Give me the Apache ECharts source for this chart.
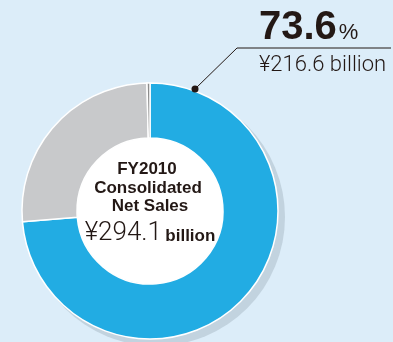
<!DOCTYPE html>
<html>
<head>
<meta charset="utf-8">
<script src="https://cdn.jsdelivr.net/npm/echarts@6/dist/echarts.min.js"></script>
<style>
  html, body { margin: 0; padding: 0; background: #dcedf9; }
  #chart { width: 393px; height: 342px; }
</style>
</head>
<body>
<div id="chart"></div>
<script>
// FY2010 consolidated net sales breakdown (¥ billion)
const segments = ['Main segment', 'Other segment', 'Eliminations'];
const salesBillion = [216.6, 76.4, 1.1];
const segmentColors = ['#22ace3', '#c8c9cb', '#8c8c8c'];
const totalBillion = 294.1;
const fiscalYear = 'FY2010';

const share = (salesBillion[0] / totalBillion * 100).toFixed(1);

const chart = echarts.init(document.getElementById('chart'), null, { renderer: 'canvas' });

const CX = 150, CY = 211, R_OUT = 128, R_IN = 73;
const font = '"Liberation Sans", Arial, Helvetica, sans-serif';
const ink = '#231815';

function centreLine(x, y, text, rich) {
  return {
    type: 'text', z: 20, x, y,
    style: rich
      ? { text, align: 'center', verticalAlign: 'middle', rich }
      : { text, align: 'center', verticalAlign: 'middle', fontFamily: font, fontWeight: 'bold', fontSize: 17, fill: ink }
  };
}

chart.setOption({
  backgroundColor: '#dcedf9',
  animation: false,
  series: [
    {
      // drop shadow ring behind the donut
      type: 'pie',
      silent: true,
      center: [CX + 6, CY + 6],
      radius: [0, R_OUT + 1],
      label: { show: false },
      itemStyle: { color: '#c2d3df' },
      data: [{ value: 1 }],
      z: 1
    },
    {
      type: 'pie',
      center: [CX, CY],
      radius: [R_IN, R_OUT],
      startAngle: 90,
      clockwise: true,
      label: { show: false },
      labelLine: { show: false },
      itemStyle: { borderColor: '#ffffff', borderWidth: 1.5 },
      data: segments.map((name, i) => ({
        name,
        value: salesBillion[i],
        itemStyle: { color: segmentColors[i] }
      })),
      z: 2
    },
    {
      // white centre disc
      type: 'pie',
      silent: true,
      center: [CX, CY],
      radius: [0, R_IN],
      label: { show: false },
      itemStyle: { color: '#ffffff' },
      data: [{ value: 1 }],
      z: 3
    }
  ],
  graphic: [
    // callout line and dot
    {
      type: 'polyline', z: 20,
      shape: { points: [[195, 89], [237, 48], [391, 48]] },
      style: { stroke: ink, lineWidth: 1, fill: null }
    },
    {
      type: 'circle', z: 20,
      shape: { cx: 195, cy: 89, r: 3.5 },
      style: { fill: ink }
    },
    {
      type: 'text', z: 20, left: 259, top: 8,
      style: {
        text: '{a|' + share + '}{b|%}',
        rich: {
          a: { fontFamily: font, fontWeight: 'bold', fontSize: 40, fill: ink },
          b: { fontFamily: font, fontSize: 22, fill: ink, padding: [10, 0, 0, 2] }
        }
      }
    },
    {
      type: 'text', z: 20, left: 259, top: 54,
      style: {
        text: '¥' + salesBillion[0].toFixed(1) + ' billion',
        fontFamily: 'Roboto, ' + font, fontWeight: 300, fontSize: 22, fill: ink
      }
    },
    // centre label
    centreLine(147, 169, fiscalYear),
    centreLine(148, 188, 'Consolidated'),
    centreLine(150, 206.5, 'Net Sales'),
    centreLine(150, 233, '{a|¥' + totalBillion.toFixed(1) + '} {b|billion}', {
      a: { fontFamily: 'Roboto, ' + font, fontWeight: 300, fontSize: 26, fill: ink },
      b: { fontFamily: font, fontWeight: 'bold', fontSize: 17, fill: ink, padding: [6, 0, 0, 0] }
    })
  ]
});
</script>
</body>
</html>
